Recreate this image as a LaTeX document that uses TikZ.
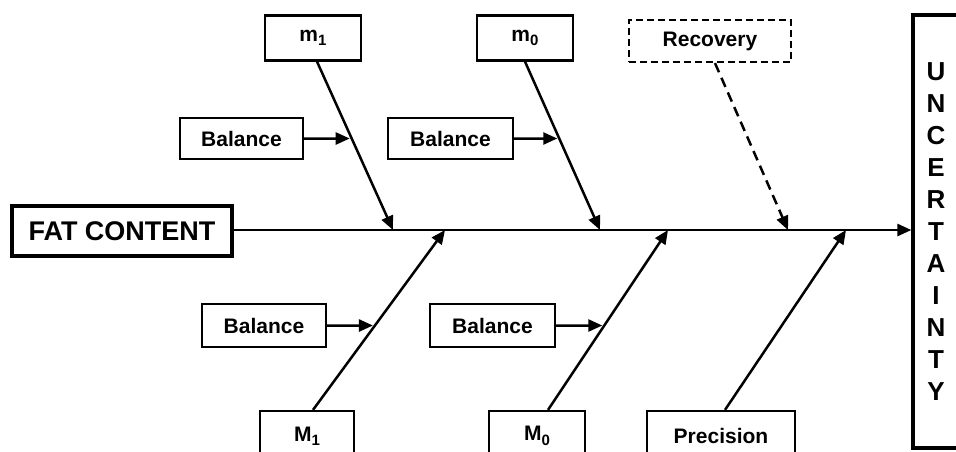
\documentclass[tikz,border=0pt]{standalone}
\usepackage{fontspec}
\setmainfont{Liberation Sans}
\usetikzlibrary{arrows.meta,intersections,calc}
\newcommand{\lowidx}[1]{\raisebox{-0.4ex}{\fontsize{15}{15}\selectfont #1}}
\begin{document}
\begin{tikzpicture}[x=1pt,y=-1pt,
  box/.style={draw, line width=2.2pt, rectangle, inner sep=0pt, font=\fontsize{21}{24}\selectfont\bfseries},
  arr/.style={line width=2.5pt, -{Triangle[length=14pt,width=12pt]}},
  dasharr/.style={arr, dash pattern=on 10pt off 6pt},
]
\useasboundingbox (0,0) rectangle (956,451);
\clip (0,0) rectangle (956,451);
% boxes
\node[box, line width=3.2pt, minimum width=220pt, minimum height=50pt, font=\fontsize{27}{28}\selectfont\bfseries] (fat) at (122,231) {FAT CONTENT};
\node[box, line width=3.2pt, minimum width=46pt, minimum height=433pt, align=center, font=\fontsize{26}{32}\selectfont\bfseries] (unc) at (936,231.5) {U\\N\\C\\E\\R\\T\\A\\I\\N\\T\\Y};
\node[box, minimum width=96pt, minimum height=45pt] (m1) at (313,38) {m\lowidx{1}};
\node[box, minimum width=96pt, minimum height=45pt] (m0) at (525,38) {m\lowidx{0}};
\node[box, dash pattern=on 7pt off 4pt, minimum width=162pt, minimum height=42pt] (rec) at (710,41) {Recovery};
\node[box, minimum width=123pt, minimum height=41pt] (b1) at (241.5,138.5) {Balance};
\node[box, minimum width=125pt, minimum height=41pt] (b2) at (450.5,138.5) {Balance};
\node[box, minimum width=124pt, minimum height=43pt] (b3) at (264,325.5) {Balance};
\node[box, minimum width=125pt, minimum height=43pt] (b4) at (492.5,325.5) {Balance};
\node[box, minimum width=94pt, minimum height=50pt] (M1) at (307,436) {M\lowidx{1}};
\node[box, minimum width=96pt, minimum height=50pt] (M0) at (537,436) {M\lowidx{0}};
\node[box, minimum width=148pt, minimum height=50pt] (pr) at (721,436) {Precision};
% junctions on the spine
\coordinate (j1) at (393,230);
\coordinate (j2) at (600,230);
\coordinate (j3) at (788,230);
\coordinate (j4) at (445,230);
\coordinate (j5) at (668,230);
\coordinate (j6) at (846,230);
% spine
\draw[arr] (fat.east |- j1) -- (j1 -| unc.west);
% ribs
\draw[arr, name path=d1] ([xshift=4pt]m1.south) -- (j1);
\draw[arr, name path=d2] (m0.south) -- (j2);
\draw[dasharr] ([xshift=5pt]rec.south) -- (j3);
\draw[arr, name path=d4] ([xshift=6pt]M1.north) -- (j4);
\draw[arr, name path=d5] ([xshift=11pt]M0.north) -- (j5);
\draw[arr] ([xshift=4pt]pr.north) -- (j6);
% balance arrows
\path[name path=h1] (b1.east) -- ++(120,0);
\path[name path=h2] (b2.east) -- ++(120,0);
\path[name path=h3] (b3.east) -- ++(120,0);
\path[name path=h4] (b4.east) -- ++(120,0);
\draw[arr, name intersections={of=d1 and h1, by=i1}] (b1.east) -- ([xshift=-2pt]i1);
\draw[arr, name intersections={of=d2 and h2, by=i2}] (b2.east) -- ([xshift=-2pt]i2);
\draw[arr, name intersections={of=d4 and h3, by=i3}] (b3.east) -- ([xshift=-2pt]i3);
\draw[arr, name intersections={of=d5 and h4, by=i4}] (b4.east) -- ([xshift=-2pt]i4);
\end{tikzpicture}
\end{document}
